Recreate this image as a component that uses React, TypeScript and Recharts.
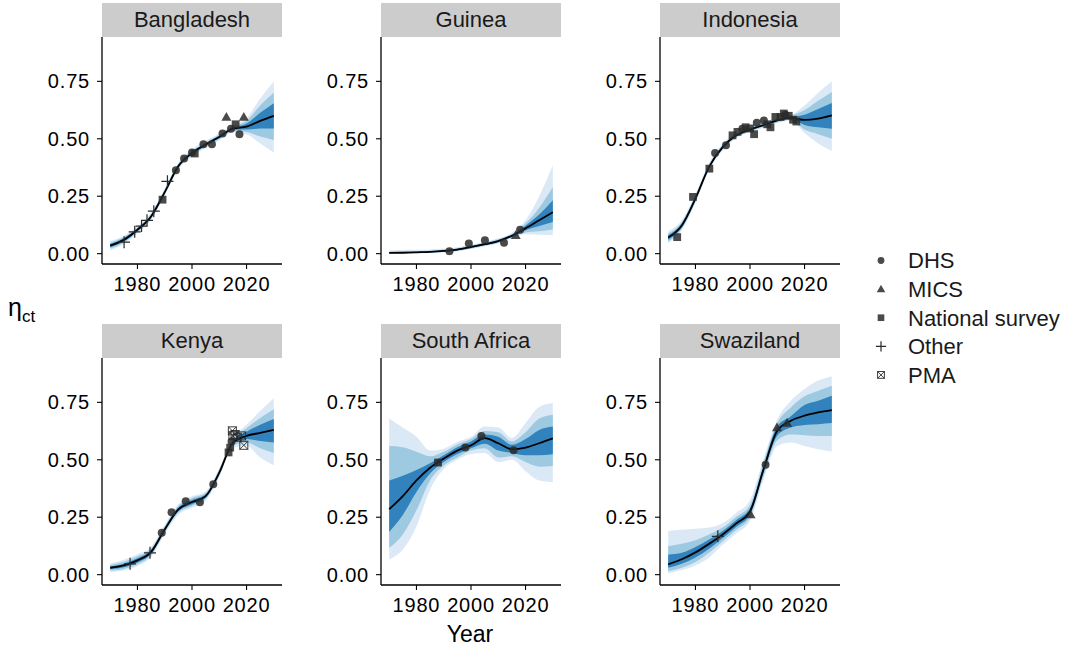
import React from "react";
import { Area, ComposedChart, Line, Scatter, XAxis, YAxis } from "recharts";

// shared x grid for the fan charts
const years = [1970, 1975, 1980, 1985, 1990, 1995, 2000, 2005, 2010, 2015, 2020, 2025, 2030];
const xTicks = [1980, 2000, 2020];
const yTicks = [0, 0.25, 0.5, 0.75];
const sources = ["DHS", "MICS", "National survey", "Other", "PMA"];

// band rows: [lo95, lo80, lo50, hi50, hi80, hi95]
const bangladeshMedian = [0.035, 0.06, 0.104, 0.162, 0.268, 0.381, 0.438, 0.475, 0.508, 0.544, 0.553, 0.578, 0.6];
const bangladeshBands = [
  [0.015, 0.022, 0.028, 0.042, 0.048, 0.055],
  [0.042, 0.048, 0.053, 0.067, 0.072, 0.078],
  [0.089, 0.094, 0.099, 0.109, 0.114, 0.119],
  [0.147, 0.152, 0.157, 0.167, 0.172, 0.177],
  [0.253, 0.258, 0.263, 0.273, 0.278, 0.283],
  [0.366, 0.371, 0.376, 0.386, 0.391, 0.396],
  [0.423, 0.428, 0.433, 0.443, 0.448, 0.453],
  [0.46, 0.465, 0.47, 0.48, 0.485, 0.491],
  [0.493, 0.498, 0.503, 0.513, 0.518, 0.523],
  [0.529, 0.534, 0.539, 0.549, 0.554, 0.559],
  [0.52, 0.53, 0.54, 0.567, 0.578, 0.59],
  [0.48, 0.51, 0.545, 0.613, 0.645, 0.675],
  [0.44, 0.495, 0.545, 0.655, 0.7, 0.75],
];
const bangladeshObs = [
  { year: 1975.1, value: 0.05, source: "Other" },
  { year: 1979, value: 0.095, source: "Other" },
  { year: 1981.5, value: 0.12, source: "Other" },
  { year: 1983.5, value: 0.145, source: "Other" },
  { year: 1986, value: 0.185, source: "Other" },
  { year: 1991, value: 0.315, source: "Other" },
  { year: 1989.2, value: 0.235, source: "National survey" },
  { year: 2001, value: 0.436, source: "National survey" },
  { year: 2016, value: 0.563, source: "National survey" },
  { year: 1994.1, value: 0.363, source: "DHS" },
  { year: 1997.1, value: 0.414, source: "DHS" },
  { year: 2000, value: 0.44, source: "DHS" },
  { year: 2004.2, value: 0.476, source: "DHS" },
  { year: 2007.3, value: 0.476, source: "DHS" },
  { year: 2011.2, value: 0.523, source: "DHS" },
  { year: 2014.3, value: 0.544, source: "DHS" },
  { year: 2017.4, value: 0.52, source: "DHS" },
  { year: 2012.6, value: 0.595, source: "MICS" },
  { year: 2019, value: 0.595, source: "MICS" },
];

const guineaMedian = [0.003, 0.004, 0.006, 0.008, 0.012, 0.018, 0.029, 0.041, 0.055, 0.078, 0.11, 0.145, 0.18];
const guineaBands = [
  [0, 0.001, 0.002, 0.005, 0.008, 0.015],
  [0.001, 0.002, 0.003, 0.006, 0.009, 0.016],
  [0.002, 0.003, 0.004, 0.008, 0.011, 0.017],
  [0.003, 0.004, 0.006, 0.01, 0.013, 0.018],
  [0.005, 0.007, 0.009, 0.015, 0.018, 0.022],
  [0.01, 0.012, 0.015, 0.021, 0.024, 0.028],
  [0.02, 0.023, 0.026, 0.032, 0.035, 0.039],
  [0.031, 0.034, 0.037, 0.045, 0.048, 0.052],
  [0.044, 0.047, 0.051, 0.059, 0.063, 0.067],
  [0.066, 0.07, 0.074, 0.082, 0.086, 0.091],
  [0.084, 0.092, 0.102, 0.122, 0.132, 0.145],
  [0.082, 0.097, 0.12, 0.17, 0.2, 0.25],
  [0.08, 0.105, 0.138, 0.232, 0.29, 0.385],
];
const guineaObs = [
  { year: 1992.1, value: 0.011, source: "DHS" },
  { year: 1999.2, value: 0.044, source: "DHS" },
  { year: 2005.1, value: 0.058, source: "DHS" },
  { year: 2012.1, value: 0.048, source: "DHS" },
  { year: 2018, value: 0.104, source: "DHS" },
  { year: 2016.4, value: 0.08, source: "MICS" },
];

const indonesiaMedian = [0.07, 0.123, 0.24, 0.378, 0.464, 0.515, 0.54, 0.56, 0.58, 0.592, 0.582, 0.588, 0.602];
const indonesiaBands = [
  [0.045, 0.052, 0.06, 0.08, 0.088, 0.098],
  [0.103, 0.108, 0.115, 0.131, 0.138, 0.145],
  [0.22, 0.227, 0.233, 0.247, 0.253, 0.26],
  [0.363, 0.368, 0.373, 0.383, 0.388, 0.393],
  [0.449, 0.454, 0.459, 0.469, 0.474, 0.479],
  [0.503, 0.507, 0.511, 0.519, 0.523, 0.527],
  [0.528, 0.532, 0.536, 0.544, 0.548, 0.552],
  [0.548, 0.552, 0.556, 0.564, 0.568, 0.572],
  [0.568, 0.572, 0.576, 0.584, 0.588, 0.592],
  [0.58, 0.584, 0.588, 0.596, 0.6, 0.604],
  [0.525, 0.54, 0.56, 0.605, 0.625, 0.645],
  [0.48, 0.52, 0.55, 0.63, 0.665, 0.7],
  [0.447, 0.5, 0.544, 0.656, 0.704, 0.75],
];
const indonesiaObs = [
  { year: 1973.3, value: 0.072, source: "National survey" },
  { year: 1979.1, value: 0.247, source: "National survey" },
  { year: 1985.1, value: 0.37, source: "National survey" },
  { year: 1993.6, value: 0.515, source: "National survey" },
  { year: 1995.4, value: 0.53, source: "National survey" },
  { year: 1998.4, value: 0.55, source: "National survey" },
  { year: 2000, value: 0.545, source: "National survey" },
  { year: 2001.5, value: 0.52, source: "National survey" },
  { year: 2006.3, value: 0.563, source: "National survey" },
  { year: 2007.5, value: 0.55, source: "National survey" },
  { year: 2009.3, value: 0.595, source: "National survey" },
  { year: 2011.2, value: 0.595, source: "National survey" },
  { year: 2012.4, value: 0.61, source: "National survey" },
  { year: 2014.2, value: 0.6, source: "National survey" },
  { year: 2015.8, value: 0.583, source: "National survey" },
  { year: 2017, value: 0.575, source: "National survey" },
  { year: 1987.2, value: 0.438, source: "DHS" },
  { year: 1991.2, value: 0.472, source: "DHS" },
  { year: 1997.2, value: 0.544, source: "DHS" },
  { year: 2002.5, value: 0.57, source: "DHS" },
  { year: 2005.1, value: 0.58, source: "DHS" },
  { year: 2013, value: 0.605, source: "DHS" },
];

const kenyaMedian = [0.03, 0.04, 0.062, 0.099, 0.197, 0.284, 0.316, 0.342, 0.444, 0.575, 0.604, 0.617, 0.63];
const kenyaBands = [
  [0.012, 0.018, 0.024, 0.036, 0.042, 0.05],
  [0.018, 0.025, 0.032, 0.048, 0.056, 0.065],
  [0.037, 0.045, 0.053, 0.071, 0.08, 0.089],
  [0.077, 0.084, 0.091, 0.107, 0.114, 0.121],
  [0.177, 0.184, 0.19, 0.204, 0.21, 0.217],
  [0.261, 0.269, 0.276, 0.292, 0.299, 0.307],
  [0.291, 0.299, 0.307, 0.325, 0.333, 0.341],
  [0.322, 0.329, 0.335, 0.349, 0.355, 0.362],
  [0.424, 0.431, 0.437, 0.451, 0.457, 0.464],
  [0.555, 0.562, 0.568, 0.582, 0.588, 0.595],
  [0.56, 0.575, 0.59, 0.622, 0.637, 0.652],
  [0.51, 0.55, 0.582, 0.652, 0.682, 0.712],
  [0.476, 0.529, 0.575, 0.677, 0.72, 0.768],
];
const kenyaObs = [
  { year: 1977.3, value: 0.047, source: "Other" },
  { year: 1984.6, value: 0.095, source: "Other" },
  { year: 1988.9, value: 0.182, source: "DHS" },
  { year: 1992.5, value: 0.272, source: "DHS" },
  { year: 1997.7, value: 0.32, source: "DHS" },
  { year: 2002.9, value: 0.315, source: "DHS" },
  { year: 2007.8, value: 0.393, source: "DHS" },
  { year: 2014.5, value: 0.58, source: "DHS" },
  { year: 2013.4, value: 0.532, source: "National survey" },
  { year: 2014, value: 0.553, source: "National survey" },
  { year: 2014.8, value: 0.626, source: "PMA" },
  { year: 2015, value: 0.605, source: "PMA" },
  { year: 2015.8, value: 0.61, source: "PMA" },
  { year: 2016.6, value: 0.598, source: "PMA" },
  { year: 2018.2, value: 0.604, source: "PMA" },
  { year: 2019, value: 0.563, source: "PMA" },
];

const southAfricaMedian = [0.285, 0.342, 0.41, 0.465, 0.505, 0.54, 0.563, 0.594, 0.572, 0.546, 0.553, 0.572, 0.593];
const southAfricaBands = [
  [0.066, 0.117, 0.186, 0.41, 0.56, 0.68],
  [0.11, 0.175, 0.26, 0.43, 0.555, 0.64],
  [0.21, 0.28, 0.36, 0.455, 0.535, 0.6],
  [0.37, 0.41, 0.44, 0.485, 0.515, 0.54],
  [0.46, 0.475, 0.49, 0.52, 0.535, 0.548],
  [0.5, 0.51, 0.525, 0.555, 0.567, 0.578],
  [0.525, 0.54, 0.55, 0.58, 0.59, 0.6],
  [0.53, 0.55, 0.57, 0.61, 0.625, 0.645],
  [0.49, 0.51, 0.54, 0.6, 0.62, 0.64],
  [0.5, 0.515, 0.53, 0.565, 0.58, 0.595],
  [0.45, 0.49, 0.52, 0.59, 0.62, 0.66],
  [0.41, 0.47, 0.52, 0.63, 0.68, 0.73],
  [0.403, 0.473, 0.524, 0.645, 0.696, 0.747],
];
const southAfricaObs = [
  { year: 1987.9, value: 0.488, source: "National survey" },
  { year: 1997.9, value: 0.553, source: "DHS" },
  { year: 2003.8, value: 0.604, source: "DHS" },
  { year: 2015.6, value: 0.541, source: "DHS" },
];

const swazilandMedian = [0.045, 0.067, 0.097, 0.134, 0.175, 0.223, 0.275, 0.46, 0.626, 0.67, 0.692, 0.706, 0.716];
const swazilandBands = [
  [0.005, 0.015, 0.03, 0.087, 0.124, 0.19],
  [0.02, 0.03, 0.048, 0.095, 0.135, 0.195],
  [0.04, 0.055, 0.075, 0.12, 0.15, 0.2],
  [0.075, 0.095, 0.113, 0.153, 0.175, 0.205],
  [0.13, 0.145, 0.16, 0.19, 0.205, 0.225],
  [0.18, 0.195, 0.208, 0.238, 0.252, 0.27],
  [0.235, 0.25, 0.263, 0.289, 0.303, 0.325],
  [0.415, 0.43, 0.445, 0.475, 0.49, 0.505],
  [0.56, 0.585, 0.605, 0.645, 0.66, 0.675],
  [0.575, 0.61, 0.64, 0.69, 0.728, 0.757],
  [0.56, 0.607, 0.651, 0.738, 0.776, 0.808],
  [0.546, 0.604, 0.655, 0.757, 0.8, 0.845],
  [0.536, 0.604, 0.66, 0.779, 0.822, 0.863],
];
const swazilandObs = [
  { year: 1988.2, value: 0.167, source: "Other" },
  { year: 2000.2, value: 0.262, source: "MICS" },
  { year: 2005.7, value: 0.478, source: "DHS" },
  { year: 2009.9, value: 0.641, source: "MICS" },
  { year: 2013.6, value: 0.66, source: "MICS" },
];

const FONT = "'Liberation Sans', Arial, Helvetica, sans-serif";
const LIGHT = "#dbe9f6";
const MID = "#9ecae1";
const DARK = "#3182bd";
const INK = "#2a2a2a";

const PW = 180;
const PH = 227;
const YW = 70;
const XH = 40;

function Mark({ source, cx, cy, k = 1 }: { source: string; cx: number; cy: number; k?: number }) {
  if (cx == null || cy == null) return null;
  if (source === "DHS") {
    return <circle cx={cx} cy={cy} r={4 * k} fill={INK} fillOpacity={0.85} />;
  }
  if (source === "MICS") {
    const h = 5 * k;
    return (
      <polygon
        points={`${cx},${cy - h} ${cx + h},${cy + h * 0.75} ${cx - h},${cy + h * 0.75}`}
        fill={INK}
        fillOpacity={0.85}
      />
    );
  }
  if (source === "National survey") {
    const s = 3.9 * k;
    return <rect x={cx - s} y={cy - s} width={2 * s} height={2 * s} fill={INK} fillOpacity={0.85} />;
  }
  if (source === "Other") {
    const s = 6 * k;
    return (
      <path
        d={`M${cx - s},${cy}H${cx + s}M${cx},${cy - s}V${cy + s}`}
        stroke={INK}
        strokeWidth={1.2}
        fill="none"
      />
    );
  }
  const s = 4 * k;
  return (
    <g stroke={INK} strokeWidth={1} fill="none" strokeOpacity={0.9}>
      <rect x={cx - s} y={cy - s} width={2 * s} height={2 * s} />
      <path d={`M${cx - s},${cy - s}L${cx + s},${cy + s}M${cx + s},${cy - s}L${cx - s},${cy + s}`} />
    </g>
  );
}

interface PanelProps {
  name: string;
  median: number[];
  bands: number[][];
  obs: { year: number; value: number; source: string }[];
  left: number;
  top: number;
}

function Panel({ name, median, bands, obs, left, top }: PanelProps) {
  const rows = years.map((year, i) => ({
    year,
    med: median[i],
    b95: [bands[i][0], bands[i][5]],
    b80: [bands[i][1], bands[i][4]],
    b50: [bands[i][2], bands[i][3]],
  }));
  const tickStyle = { fontSize: 20, fill: "#000", fontFamily: FONT, letterSpacing: 0.8 };
  return (
    <>
      <div
        style={{
          position: "absolute",
          left,
          top: top - 34,
          width: PW,
          height: 34,
          background: "#cccccc",
          color: "#1a1a1a",
          fontFamily: FONT,
          fontSize: 22,
          lineHeight: "34px",
          textAlign: "center",
        }}
      >
        {name}
      </div>
      <div style={{ position: "absolute", left: left - YW, top, width: YW + PW, height: PH + XH }}>
        <ComposedChart
          width={YW + PW}
          height={PH + XH}
          data={rows}
          margin={{ top: 0, right: 0, bottom: 0, left: 0 }}
        >
          <XAxis
            type="number"
            dataKey="year"
            domain={[1967, 2033]}
            ticks={xTicks}
            allowDataOverflow
            height={XH}
            tick={tickStyle}
            tickSize={5}
            tickMargin={8}
            stroke="#000"
            axisLine={{ stroke: "#000", strokeWidth: 1.3 }}
            tickLine={{ stroke: "#000", strokeWidth: 1.1 }}
          />
          <YAxis
            type="number"
            domain={[-0.045, 0.943]}
            ticks={yTicks}
            allowDataOverflow
            width={YW}
            tick={tickStyle}
            tickSize={5}
            tickMargin={7}
            tickFormatter={(v: number) => v.toFixed(2)}
            stroke="#000"
            axisLine={{ stroke: "#000", strokeWidth: 1.3 }}
            tickLine={{ stroke: "#000", strokeWidth: 1.1 }}
          />
          <Area dataKey="b95" type="monotone" stroke="none" fill={LIGHT} fillOpacity={1} isAnimationActive={false} />
          <Area dataKey="b80" type="monotone" stroke="none" fill={MID} fillOpacity={1} isAnimationActive={false} />
          <Area dataKey="b50" type="monotone" stroke="none" fill={DARK} fillOpacity={1} isAnimationActive={false} />
          <Line
            dataKey="med"
            type="monotone"
            stroke="#000"
            strokeWidth={1.8}
            dot={false}
            activeDot={false}
            isAnimationActive={false}
          />
          {sources.map((s) => (
            <Scatter
              key={s}
              data={obs.filter((o) => o.source === s)}
              dataKey="value"
              isAnimationActive={false}
              shape={(p: any) => <Mark source={s} cx={p.cx} cy={p.cy} />}
            />
          ))}
        </ComposedChart>
      </div>
    </>
  );
}

export default function App() {
  const colX = [102, 381, 660];
  const rowY = [37, 358];
  return (
    <div
      style={{
        position: "absolute",
        left: 0,
        top: 0,
        width: 1065,
        height: 649,
        background: "#fff",
        overflow: "hidden",
        fontFamily: FONT,
      }}
    >
      <Panel name="Bangladesh" median={bangladeshMedian} bands={bangladeshBands} obs={bangladeshObs} left={colX[0]} top={rowY[0]} />
      <Panel name="Guinea" median={guineaMedian} bands={guineaBands} obs={guineaObs} left={colX[1]} top={rowY[0]} />
      <Panel name="Indonesia" median={indonesiaMedian} bands={indonesiaBands} obs={indonesiaObs} left={colX[2]} top={rowY[0]} />
      <Panel name="Kenya" median={kenyaMedian} bands={kenyaBands} obs={kenyaObs} left={colX[0]} top={rowY[1]} />
      <Panel name="South Africa" median={southAfricaMedian} bands={southAfricaBands} obs={southAfricaObs} left={colX[1]} top={rowY[1]} />
      <Panel name="Swaziland" median={swazilandMedian} bands={swazilandBands} obs={swazilandObs} left={colX[2]} top={rowY[1]} />

      <div style={{ position: "absolute", left: 8, top: 292, fontSize: 25, color: "#000", lineHeight: "30px" }}>
        η<span style={{ fontSize: 17, position: "relative", top: 6 }}>ct</span>
      </div>
      <div
        style={{
          position: "absolute",
          left: 370,
          top: 620,
          width: 200,
          textAlign: "center",
          fontSize: 23,
          color: "#000",
          lineHeight: "28px",
        }}
      >
        Year
      </div>

      <svg style={{ position: "absolute", left: 860, top: 240 }} width={205} height={150}>
        {sources.map((s, i) => (
          <g key={s}>
            <Mark source={s} cx={21} cy={20.5 + i * 28.6} k={0.85} />
            <text x={48} y={20.5 + i * 28.6} dy="0.36em" fontSize={22} fontFamily={FONT} fill="#1a1a1a">
              {s}
            </text>
          </g>
        ))}
      </svg>
    </div>
  );
}
